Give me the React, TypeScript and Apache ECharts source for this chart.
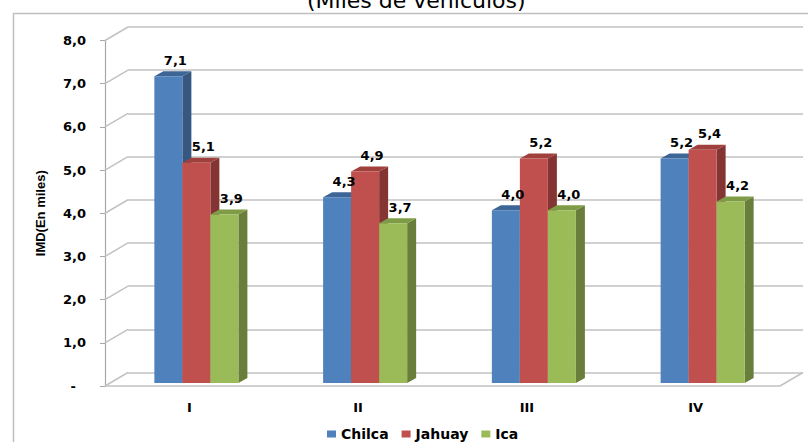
import { useEffect, useRef } from "react";
import * as echarts from "echarts";

// Quarterly average daily traffic (IMD), thousands of vehicles
const quarters = ["I", "II", "III", "IV"];
const seriesNames = ["Chilca", "Jahuay", "Ica"];
const chilca = [7.1, 4.3, 4.0, 5.2];
const jahuay = [5.1, 4.9, 5.2, 5.4];
const ica = [3.9, 3.7, 4.0, 4.2];
const yTicks = [0, 1, 2, 3, 4, 5, 6, 7, 8];
const Y_MIN = 0;
const Y_MAX = 8;
const Y_STEP = 1;

const frontColors = ["#4F81BD", "#C0504D", "#9BBB59"];
const topColors = ["#3D6596", "#A0403D", "#7E9C45"];
const sideColors = ["#36577F", "#843433", "#687E3A"];

// pseudo-3D offsets: wall depth and bar depth
const WALL_DX = 23;
const WALL_DY = -13.5;
const BAR_DX = 9;
const BAR_DY = -5;
const BAR_FRACTION = 0.166;

const GRID_LINE = "#C2C2C2";
const AXIS_LINE = "#A8A8A8";
const FONT = "DejaVu Sans";

const fmt = (v: number) => v.toFixed(1).replace(".", ",");

export default function App() {
  const ref = useRef<HTMLDivElement>(null);

  useEffect(() => {
    if (!ref.current) return;
    const chart = echarts.init(ref.current, undefined, { renderer: "svg" });
    const allSeries = [chilca, jahuay, ica];

    const barSeries = allSeries.map((vals, s) => ({
      type: "custom",
      name: seriesNames[s],
      xAxisIndex: 2,
      yAxisIndex: 2,
      itemStyle: { color: frontColors[s] },
      encode: { x: 0, y: 1 },
      data: vals.map((v, i) => [i, v]),
      renderItem: (_params: any, api: any) => {
        const idx = api.value(0);
        const v = api.value(1);
        const top = api.coord([idx, v]);
        const base = api.coord([idx, 0]);
        const band = api.size([1, 0])[0];
        const w = band * BAR_FRACTION;
        const left = top[0] + (s - 1.5) * w;
        const right = left + w;
        const yt = top[1];
        const yb = base[1];
        return {
          type: "group",
          children: [
            {
              type: "polygon",
              shape: {
                points: [
                  [right, yt],
                  [right + BAR_DX, yt + BAR_DY],
                  [right + BAR_DX, yb + BAR_DY],
                  [right, yb],
                ],
              },
              style: { fill: sideColors[s] },
            },
            {
              type: "polygon",
              shape: {
                points: [
                  [left, yt],
                  [left + BAR_DX, yt + BAR_DY],
                  [right + BAR_DX, yt + BAR_DY],
                  [right, yt],
                ],
              },
              style: { fill: topColors[s] },
            },
            {
              type: "rect",
              shape: { x: left, y: yt, width: w, height: yb - yt },
              style: { fill: frontColors[s] },
            },
            {
              type: "text",
              z2: 50,
              x: left + w / 2 + 7,
              y: yt - 16,
              style: {
                text: fmt(v),
                fill: "#000",
                font: `bold 13px "${FONT}"`,
                align: "center",
                verticalAlign: "middle",
              },
            },
          ],
        };
      },
    }));

    // diagonal edges joining the front axis to the back wall, plus the floor
    const wallSeries = {
      type: "custom",
      xAxisIndex: 0,
      yAxisIndex: 0,
      silent: true,
      encode: { x: 0, y: 1 },
      data: yTicks.map((v) => [0, v]),
      renderItem: (params: any, api: any) => {
        const cs = params.coordSys;
        const v = api.value(1);
        const y = api.coord([0, v])[1];
        const x0 = cs.x;
        const lineStyle = { stroke: GRID_LINE, lineWidth: 1.5 };
        const children: any[] = [
          {
            type: "line",
            shape: { x1: x0, y1: y, x2: x0 + WALL_DX, y2: y + WALL_DY },
            style: lineStyle,
          },
        ];
        if (v === Y_MIN) {
          const x1 = x0 + cs.width;
          children.push(
            { type: "line", shape: { x1: x0, y1: y, x2: x1, y2: y }, style: lineStyle },
            {
              type: "line",
              shape: { x1, y1: y, x2: x1 + WALL_DX, y2: y + WALL_DY },
              style: lineStyle,
            }
          );
        }
        return { type: "group", children };
      },
    };

    const valueAxisBase = { type: "value", min: Y_MIN, max: Y_MAX, interval: Y_STEP };

    chart.setOption({
      animation: false,
      title: {
        text: "(Miles de vehículos)",
        left: 302,
        top: -16,
        textStyle: { fontFamily: FONT, fontSize: 22, fontWeight: "normal", color: "#000" },
      },
      graphic: [
        {
          type: "rect",
          left: 11,
          top: 11,
          silent: true,
          shape: { width: 900, height: 500 },
          style: { fill: "none", stroke: "#BFBFBF", lineWidth: 1.5 },
        },
      ],
      legend: {
        data: seriesNames,
        left: 322,
        top: 422,
        icon: "rect",
        itemWidth: 9,
        itemHeight: 7,
        itemGap: 13,
        textStyle: { fontFamily: FONT, fontSize: 14, fontWeight: "bold", color: "#000" },
      },
      grid: [
        { left: 105, right: 28, top: 40.5, bottom: 56 },
        { left: 105 + WALL_DX, right: 28 - WALL_DX, top: 40.5 + WALL_DY, bottom: 56 - WALL_DY },
        { left: 112, right: 21, top: 37.5, bottom: 59 },
      ],
      xAxis: [
        {
          type: "category",
          gridIndex: 0,
          data: quarters,
          axisLine: { show: false },
          axisTick: { show: false },
          axisLabel: {
            margin: 15,
            fontFamily: FONT,
            fontSize: 13,
            fontWeight: "bold",
            color: "#000",
          },
        },
        { type: "category", gridIndex: 1, data: quarters, show: false },
        { type: "category", gridIndex: 2, data: quarters, show: false },
      ],
      yAxis: [
        {
          ...valueAxisBase,
          gridIndex: 0,
          name: "IMD(En miles)",
          nameLocation: "middle",
          nameRotate: 90,
          nameGap: 58,
          nameTextStyle: {
            fontFamily: "Liberation Sans",
            fontSize: 13,
            fontWeight: "bold",
            color: "#000",
          },
          axisLine: { show: true, lineStyle: { color: AXIS_LINE, width: 1.2 } },
          axisTick: { show: true, length: 5, lineStyle: { color: AXIS_LINE } },
          splitLine: { show: false },
          axisLabel: {
            margin: 19,
            fontFamily: FONT,
            fontSize: 13,
            fontWeight: "bold",
            color: "#000",
            formatter: (v: number) => (v === 0 ? "{dash|-}" : fmt(v)),
            rich: {
              dash: {
                fontFamily: FONT,
                fontSize: 13,
                fontWeight: "bold",
                color: "#000",
                padding: [0, 10, 0, 0],
              },
            },
          },
        },
        {
          ...valueAxisBase,
          gridIndex: 1,
          axisLine: { show: false },
          axisTick: { show: false },
          axisLabel: { show: false },
          splitLine: { show: true, lineStyle: { color: GRID_LINE, width: 1.5 } },
        },
        { ...valueAxisBase, gridIndex: 2, show: false, splitLine: { show: false } },
      ],
      series: [wallSeries, ...barSeries],
    });

    return () => chart.dispose();
  }, []);

  return (
    <div
      ref={ref}
      style={{ position: "fixed", left: 0, top: 0, width: 808, height: 442, background: "#fff" }}
    />
  );
}
